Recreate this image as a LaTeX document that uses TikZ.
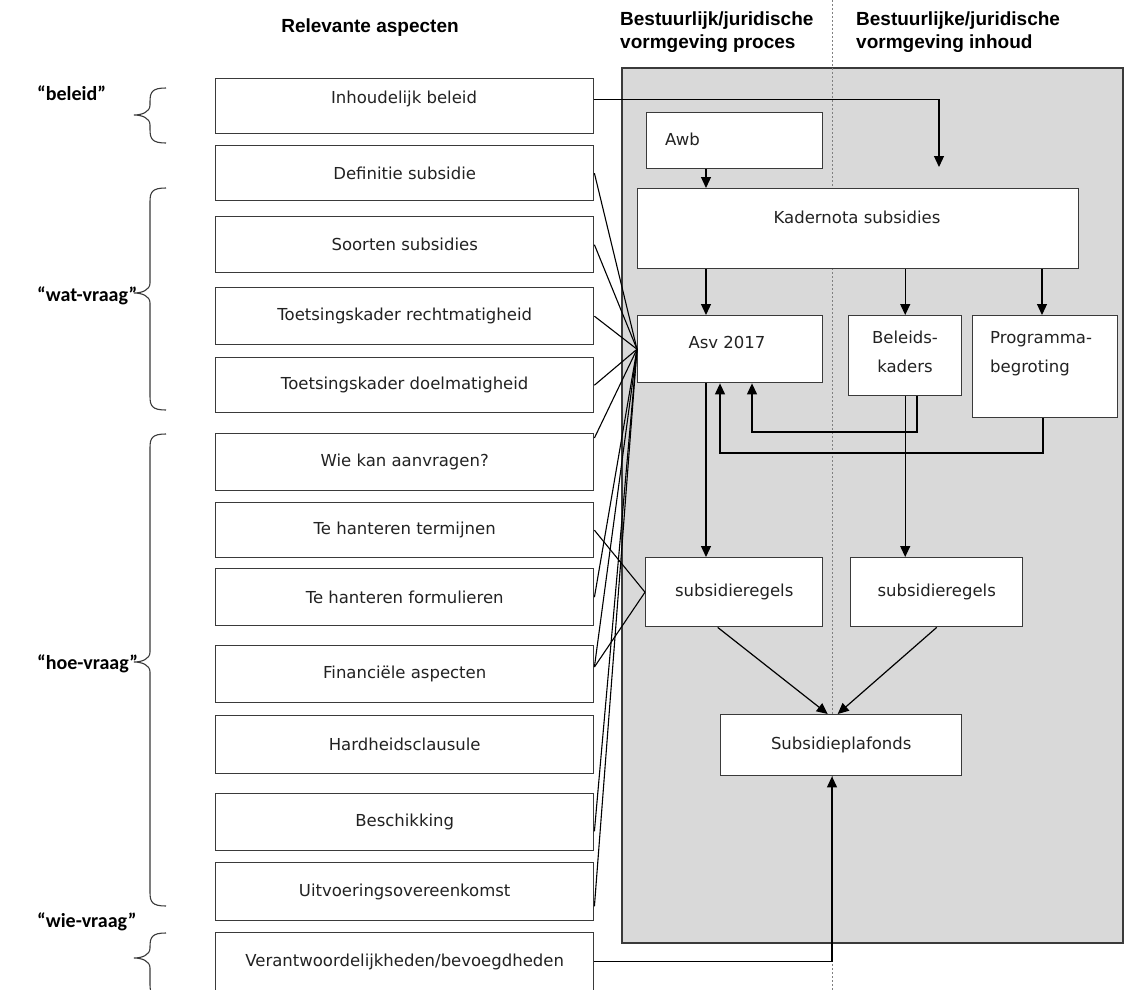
\documentclass[tikz,border=0pt]{standalone}
\usepackage{fontspec}
\setmainfont{DejaVu Sans}
\newfontfamily\hdfont{Liberation Sans}
\newfontfamily\lbfont{Carlito}
\usetikzlibrary{arrows.meta}
\definecolor{boxc}{HTML}{3A3A3A}
\definecolor{panelc}{HTML}{D9D9D9}
\definecolor{txtc}{HTML}{222222}
\newcommand\mycurly[3]{\draw[brc] (166,#1) .. controls (152,#1) and (150,{#1+4}) .. (150,{#1+14}) -- (150,{#2-10}) .. controls (150,{#2-3}) and (142,#2) .. (134,#2) .. controls (142,#2) and (150,{#2+3}) .. (150,{#2+10}) -- (150,{#3-14}) .. controls (150,{#3-4}) and (152,#3) .. (166,#3);}
\begin{document}
\begin{tikzpicture}[x=1pt,y=-1pt,
  box/.style={draw=boxc, line width=1.4pt, fill=white, inner sep=0pt, anchor=north west, font=\fontsize{16.5}{20}\selectfont, text=txtc},
  txt/.style={inner sep=0pt, font=\fontsize{16.5}{29}\selectfont, text=txtc},
  hdr/.style={inner sep=0pt, font=\hdfont\bfseries\fontsize{19}{23}\selectfont, align=left, anchor=north west},
  lbl/.style={inner sep=0pt, font=\lbfont\bfseries\fontsize{20}{24}\selectfont, anchor=west},
  arr/.style={-{Triangle[length=11pt,width=10pt]}, line width=1.2pt, draw=black},
  ln/.style={line width=1.1pt, draw=black},
  brc/.style={line width=1.1pt, draw=boxc},
  panel/.style={fill=panelc, draw=boxc, line width=1.4pt},
  divider/.style={draw=gray, line width=0.9pt, dash pattern=on 2pt off 2pt}]
\useasboundingbox (0,0) rectangle (1125,990);
\fill[white] (0,0) rectangle (1125,990);

% headers
\node[inner sep=0pt, font=\hdfont\bfseries\fontsize{19}{23}\selectfont] (h1) at (370,28) {Relevante aspecten};
\node[hdr] (h2) at (620,12) {Bestuurlijk/juridische\\vormgeving proces};
\node[hdr] (h3) at (856,12) {Bestuurlijke/juridische\\vormgeving inhoud};

% panel and divider
\path[panel] (622,68) rectangle (1123,943);
\draw[divider] (832,0) -- (832,990);

% left labels and braces
\node[lbl] (lbel) at (37,93) {“beleid”};
\node[lbl] (lwat) at (37,296) {“wat-vraag”};
\node[lbl] (lhoe) at (37,664) {“hoe-vraag”};
\node[lbl] (lwie) at (37,922) {“wie-vraag”};
\mycurly{88}{115}{143}
\mycurly{188}{293}{410}
\mycurly{434}{662}{906}
\mycurly{933}{958}{998}

% left boxes
\node[box, minimum width=378pt, minimum height=55pt] (inh) at (215,78) {};
\node[txt] (inht) at (404,99) {Inhoudelijk beleid};
\node[box, minimum width=378pt, minimum height=55pt] (def) at (215,145) {Definitie subsidie};
\node[box, minimum width=378pt, minimum height=56pt] (soort) at (215,216) {Soorten subsidies};
\node[box, minimum width=378pt, minimum height=57pt] (tr) at (215,287) {Toetsingskader rechtmatigheid};
\node[box, minimum width=378pt, minimum height=55pt] (td) at (215,357) {Toetsingskader doelmatigheid};
\node[box, minimum width=378pt, minimum height=57pt] (wie) at (215,433) {Wie kan aanvragen?};
\node[box, minimum width=378pt, minimum height=55pt] (term) at (215,502) {Te hanteren termijnen};
\node[box, minimum width=378pt, minimum height=57pt] (form) at (215,568) {Te hanteren formulieren};
\node[box, minimum width=378pt, minimum height=57pt] (fin) at (215,645) {Financiële aspecten};
\node[box, minimum width=378pt, minimum height=58pt] (hard) at (215,715) {Hardheidsclausule};
\node[box, minimum width=378pt, minimum height=57pt] (besch) at (215,793) {Beschikking};
\node[box, minimum width=378pt, minimum height=58pt] (uitv) at (215,862) {Uitvoeringsovereenkomst};
\node[box, minimum width=378pt, minimum height=58pt] (verant) at (215,932) {Verantwoordelijkheden/bevoegdheden};

% right boxes
\node[box, minimum width=176pt, minimum height=56pt] (awb) at (646,112) {};
\node[txt, anchor=west] (awbt) at (665,139) {Awb};
\node[box, minimum width=441pt, minimum height=80pt] (kad) at (637,188) {};
\node[txt] (kadt) at (857,217) {Kadernota subsidies};
\node[box, minimum width=185pt, minimum height=67pt] (asv) at (637,315) {};
\node[txt] (asvt) at (727,342) {Asv 2017};
\node[box, minimum width=113pt, minimum height=80pt] (bel) at (848,315) {};
\node[txt, align=center, anchor=north] (belt) at (905,331) {Beleids-\\kaders};
\node[box, minimum width=145pt, minimum height=102pt] (prog) at (972,315) {};
\node[txt, align=left, anchor=north west] (progt) at (990,331) {Programma-\\begroting};
\node[box, minimum width=177pt, minimum height=69pt] (sr1) at (645,557) {subsidieregels};
\node[box, minimum width=172pt, minimum height=69pt] (sr2) at (850,557) {subsidieregels};
\node[box, minimum width=241pt, minimum height=61pt] (plaf) at (720,714) {Subsidieplafonds};

% helper coordinates
\coordinate (xa) at (706,0);
\coordinate (xp) at (1042,0);
\coordinate (btip) at (939,167);
\coordinate (b1) at (917,432);
\coordinate (b2) at (752,432);
\coordinate (p1) at (1043,453);
\coordinate (p2) at (720,453);
\coordinate (vx) at (832,0);

% connectors left -> Asv / subsidieregels
\draw[ln] (def.east) -- (asv.west);
\draw[ln] (soort.east) -- (asv.west);
\draw[ln] (tr.east) -- (asv.west);
\draw[ln] (td.east) -- (asv.west);
\draw[ln] ([yshift=-5pt]wie.north east) -- (asv.west);
\draw[ln] (term.east) -- (sr1.west);
\draw[ln] (form.east) -- (asv.west);
\draw[ln] ([yshift=-22pt]fin.north east) -- (asv.west);
\draw[ln] ([yshift=-22pt]fin.north east) -- (sr1.west);
\draw[ln] ([yshift=20pt]besch.south east) -- (asv.west);
\draw[ln] ([yshift=15pt]uitv.south east) -- (asv.west);

% other connectors
\draw[arr] ([yshift=7pt]inh.east) -| (btip);
\draw[arr] (awb.south -| xa) -- (kad.north -| xa);
\draw[arr] (kad.south -| xa) -- (asv.north -| xa);
\draw[arr] (kad.south -| bel.north) -- (bel.north);
\draw[arr] (kad.south -| xp) -- (prog.north -| xp);
\draw[arr] (bel.south -| b1) -- (b1) -- (b2) -- (asv.south -| b2);
\draw[arr] (prog.south -| p1) -- (p1) -- (p2) -- (asv.south -| p2);
\draw[arr] (asv.south -| xa) -- (sr1.north -| xa);
\draw[arr] (bel.south) -- (bel.south |- sr2.north);
\draw[arr] ([xshift=-16.5pt]sr1.south) -- ([xshift=-13.5pt]plaf.north);
\draw[arr] (sr2.south) -- ([xshift=-3.5pt]plaf.north);
\draw[arr] (verant.east) -| (plaf.south -| vx);
\end{tikzpicture}
\end{document}
